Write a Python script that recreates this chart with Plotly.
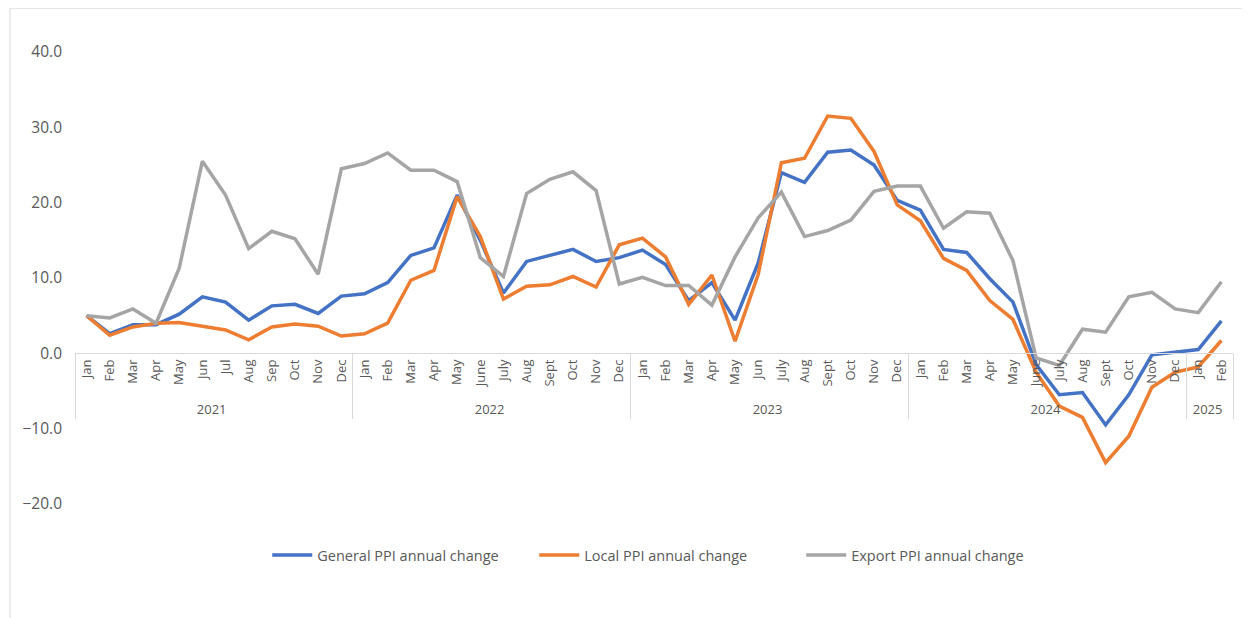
import plotly.graph_objects as go

years = ["2021"] * 12 + ["2022"] * 12 + ["2023"] * 12 + ["2024"] * 12 + ["2025"] * 2
months = (
    ["Jan", "Feb", "Mar", "Apr", "May", "Jun", "Jul", "Aug", "Sep", "Oct", "Nov", "Dec"]
    + ["Jan", "Feb", "Mar", "Apr", "May", "June", "July", "Aug", "Sept", "Oct", "Nov", "Dec"]
    + ["Jan", "Feb", "Mar", "Apr", "May", "Jun", "July", "Aug", "Sept", "Oct", "Nov", "Dec"]
    + ["Jan", "Feb", "Mar", "Apr", "May", "June", "July", "Aug", "Sept", "Oct", "Nov", "Dec"]
    + ["Jan", "Feb"]
)

general = [
    5.0, 2.6, 3.8, 3.8, 5.2, 7.5, 6.8, 4.4, 6.3, 6.5, 5.3, 7.6,
    7.9, 9.4, 13.0, 14.0, 21.0, 15.0, 8.0, 12.2, 13.0, 13.8, 12.2, 12.7,
    13.7, 11.8, 7.0, 9.4, 4.4, 12.0, 24.0, 22.7, 26.7, 27.0, 25.0, 20.3,
    19.0, 13.8, 13.4, 9.9, 6.8, -1.5, -5.5, -5.2, -9.5, -5.5, -0.2, 0.1,
    0.5, 4.3,
]
local = [
    5.0, 2.4, 3.5, 4.0, 4.1, 3.6, 3.1, 1.8, 3.5, 3.9, 3.6, 2.3,
    2.6, 4.0, 9.7, 11.0, 20.8, 15.5, 7.2, 8.9, 9.1, 10.2, 8.8, 14.4,
    15.3, 12.8, 6.5, 10.4, 1.6, 10.5, 25.3, 25.9, 31.5, 31.2, 26.8, 19.7,
    17.6, 12.6, 11.0, 7.0, 4.5, -2.5, -7.0, -8.5, -14.5, -11.0, -4.5, -2.5,
    -1.8, 1.7,
]
export = [
    5.0, 4.7, 5.9, 4.0, 11.3, 25.5, 21.0, 13.9, 16.2, 15.2, 10.5, 24.5,
    25.2, 26.6, 24.3, 24.3, 22.8, 12.7, 10.2, 21.2, 23.1, 24.1, 21.6, 9.2,
    10.1, 9.0, 9.0, 6.4, 12.8, 18.0, 21.4, 15.5, 16.3, 17.7, 21.5, 22.2,
    22.2, 16.6, 18.8, 18.6, 12.3, -0.6, -1.6, 3.2, 2.8, 7.5, 8.1, 5.9,
    5.4, 9.5,
]

series = [
    ("General PPI annual change", general, "#4472C4"),
    ("Local PPI annual change", local, "#ED7D31"),
    ("Export PPI annual change", export, "#A5A5A5"),
]

# Month-label order used so plotly's multicategory axis keeps chronological order
label_order_years = ["2021", "2021", "2021", "2021", "2021", "2021", "2022", "2021",
                     "2022", "2021", "2021", "2022", "2021", "2021", "2021"]
label_order_months = ["Jan", "Feb", "Mar", "Apr", "May", "Jun", "June", "Jul",
                      "July", "Aug", "Sep", "Sept", "Oct", "Nov", "Dec"]

fig = go.Figure()
fig.add_trace(go.Scatter(
    x=[label_order_years, label_order_months], y=[None] * len(label_order_months),
    mode="lines", showlegend=False, hoverinfo="skip",
))
for name, vals, color in series:
    fig.add_trace(go.Scatter(
        x=[years, months], y=vals, mode="lines", name=name,
        line=dict(color=color, width=3.5),
    ))

fig.update_layout(
    width=1242, height=610,
    margin=dict(l=67, r=17, t=44, b=114),
    paper_bgcolor="white", plot_bgcolor="white",
    font=dict(family="Open Sans, sans-serif", color="#595959"),
    showlegend=True,
    legend=dict(orientation="h", x=0.166, xanchor="left", y=-0.113, yanchor="middle",
                font=dict(size=14.5, color="#595959"), itemwidth=40, tracegroupgap=0,
                entrywidth=212, entrywidthmode="pixels"),
    xaxis=dict(
        type="multicategory", anchor="free", position=1/3, range=[-0.5, 49.5],
        showline=True, linecolor="#D9D9D9", linewidth=1,
        tickangle=-90, tickfont=dict(size=13, color="#595959"),
        showdividers=True, dividercolor="#D9D9D9", dividerwidth=1,
        showgrid=False, ticks="", zeroline=False,
    ),
    yaxis=dict(
        range=[-20, 40], dtick=10, tickformat=".1f",
        showgrid=False, zeroline=False, showline=False,
        tickfont=dict(size=15.5, color="#595959"), ticklabelstandoff=12,
    ),
    shapes=[
        dict(type="line", xref="paper", yref="paper", x0=-0.0561, x1=-0.0561, y0=-0.26, y1=1.097,
             line=dict(color="#D9D9D9", width=1)),
        dict(type="line", xref="paper", yref="paper", x0=-0.0561, x1=1.02, y0=1.097, y1=1.097,
             line=dict(color="#D9D9D9", width=1)),
    ],
)

fig.write_html("out.html")
